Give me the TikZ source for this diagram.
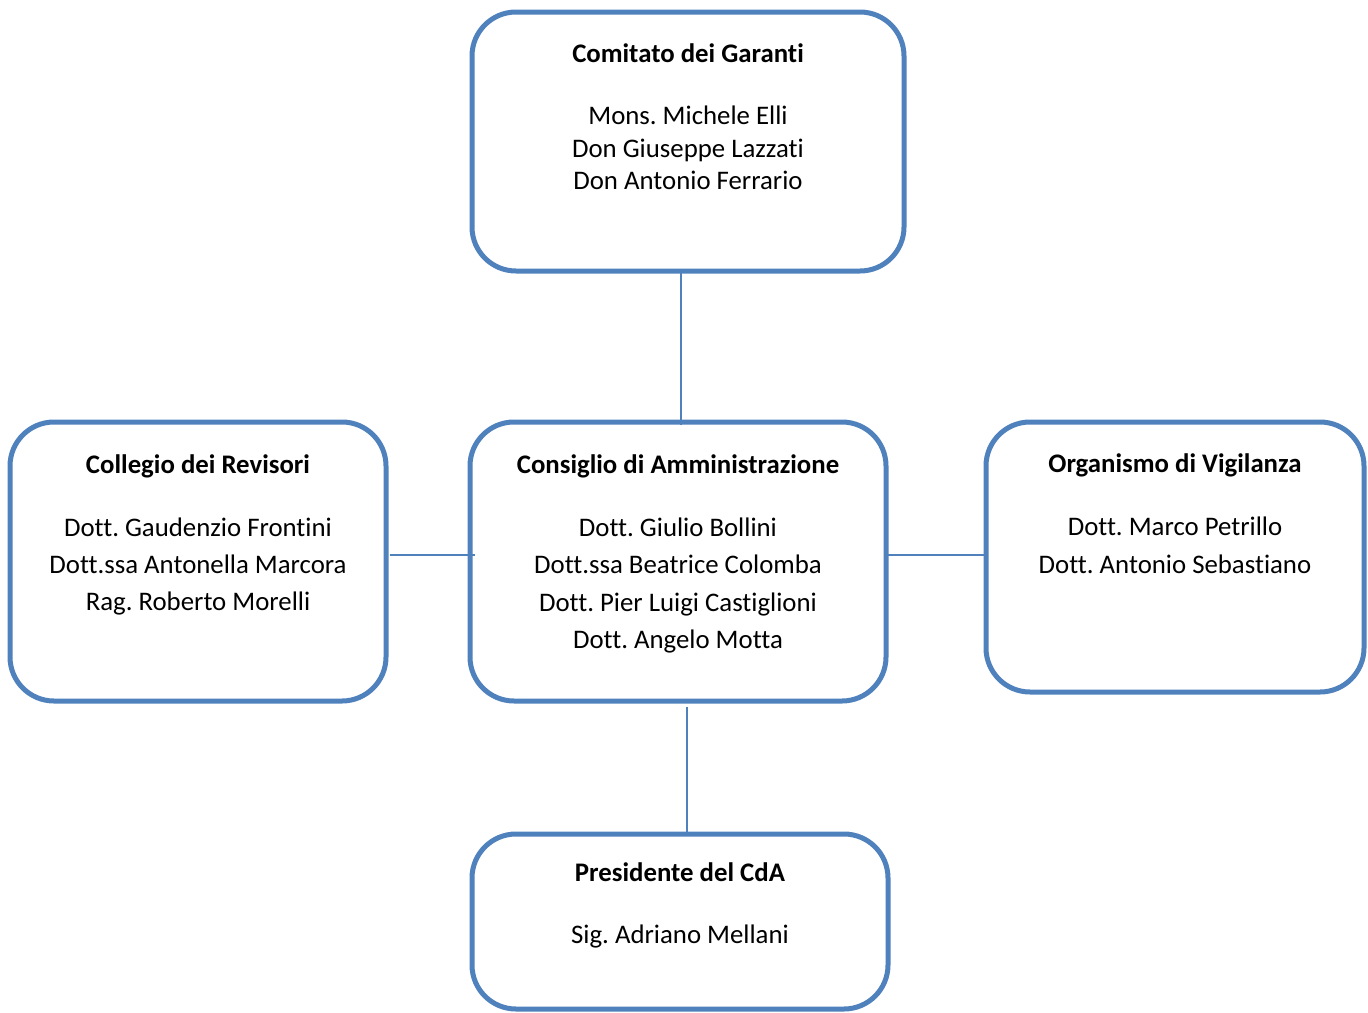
\documentclass[tikz,border=0pt]{standalone}
\usepackage{fontspec}
\setmainfont{Carlito}[Ligatures={NoCommon}]
\frenchspacing
\definecolor{boxblue}{HTML}{4F81BD}
\begin{document}
\begin{tikzpicture}[x=1pt,y=-1pt,
  box/.style={draw=boxblue, line width=5pt, rounded corners=44pt, inner sep=0pt, outer sep=0pt, fill=white},
  conn/.style={draw=boxblue, line width=2pt},
  ttl/.style={anchor=base, font=\fontsize{26.8}{30}\selectfont\bfseries, inner sep=0pt},
  body/.style={anchor=base, font=\fontsize{26.8}{30}\selectfont, inner sep=0pt}]
\useasboundingbox (0,0) rectangle (1368,1012);
% boxes
\node[box, minimum width=432pt, minimum height=259pt] (garanti) at (688,141.5) {};
\node[box, minimum width=376pt, minimum height=279pt] (revisori) at (198,561.5) {};
\node[box, minimum width=416pt, minimum height=279pt] (cda) at (678,561.5) {};
\node[box, minimum width=378pt, minimum height=270pt] (vigilanza) at (1175,557) {};
\node[box, minimum width=416pt, minimum height=175pt] (pres) at (680,921.5) {};
% connectors
\draw[conn] ([xshift=-7pt]garanti.south) -- ([xshift=3pt,yshift=-3pt]cda.north);
\draw[conn] ([xshift=9pt,yshift=-6pt]cda.south) -- ([xshift=7pt]pres.north);
\draw[conn] ([xshift=4pt,yshift=6.5pt]revisori.east) -- ([xshift=5pt,yshift=6.5pt]cda.west);
\draw[conn] ([xshift=2pt,yshift=6.5pt]cda.east) -- ([yshift=2pt]vigilanza.west);
% texts: Comitato dei Garanti
\node[ttl] (gT) at (688,62) {Comitato dei Garanti};
\node[body] (g1) at (688,124) {Mons. Michele Elli};
\node[body] (g2) at (688,157) {Don Giuseppe Lazzati};
\node[body] (g3) at (688,189) {Don Antonio Ferrario};
% Collegio dei Revisori
\node[ttl] (rT) at (198,473) {Collegio dei Revisori};
\node[body] (r1) at (198,536) {Dott. Gaudenzio Frontini};
\node[body] (r2) at (198,573) {Dott.ssa Antonella Marcora};
\node[body] (r3) at (198,610) {Rag. Roberto Morelli};
% Consiglio di Amministrazione
\node[ttl] (cT) at (678,473) {Consiglio di Amministrazione};
\node[body] (c1) at (678,536) {Dott. Giulio Bollini};
\node[body] (c2) at (678,573) {Dott.ssa Beatrice Colomba};
\node[body] (c3) at (678,611) {Dott. Pier Luigi Castiglioni};
\node[body] (c4) at (678,648) {Dott. Angelo Motta};
% Organismo di Vigilanza
\node[ttl] (vT) at (1175,472) {Organismo di Vigilanza};
\node[body] (v1) at (1175,535) {Dott. Marco Petrillo};
\node[body] (v2) at (1175,573) {Dott. Antonio Sebastiano};
% Presidente
\node[ttl] (pT) at (680,881) {Presidente del CdA};
\node[body] (p1) at (680,943) {Sig. Adriano Mellani};
\end{tikzpicture}
\end{document}
